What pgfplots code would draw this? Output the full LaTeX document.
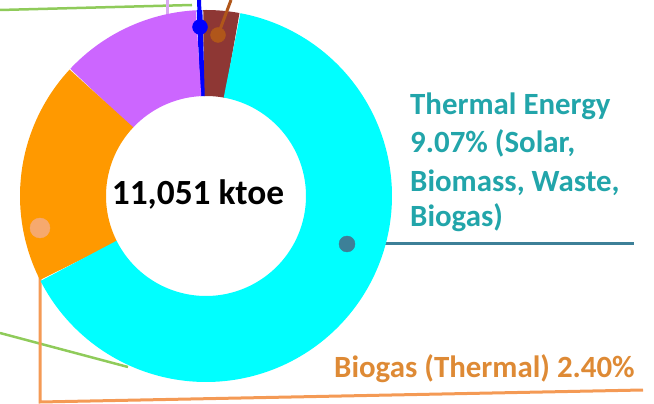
\documentclass[border=0pt]{standalone}
\usepackage{pgfplots}
\pgfplotsset{compat=1.18}
\usepackage{fontspec}
\setmainfont{Carlito}

\definecolor{slcyan}{HTML}{00FFFF}
\definecolor{slbrown}{HTML}{8E3734}
\definecolor{slblue}{HTML}{0000FF}
\definecolor{slpurple}{HTML}{CC66FF}
\definecolor{slorange}{HTML}{FF9900}
\definecolor{leadgreen}{HTML}{8FCB5A}
\definecolor{leadlav}{HTML}{D8A8F0}
\definecolor{leadbrown}{HTML}{B0561A}
\definecolor{leadorange}{HTML}{F49A55}
\definecolor{leadteal}{HTML}{3D8098}
\definecolor{txtteal}{HTML}{22A5AA}
\definecolor{txtorange}{HTML}{DE8A35}

% slice shares (percent), counter-clockwise from the start angle
\def\startangle{79.5}
\def\shBrown{3.19}
\def\shBlue{0.56}
\def\shPurple{12.22}
\def\shOrange{19.44}
\def\shCyan{64.59}

\begin{document}
\begin{tikzpicture}
\pgfmathsetmacro\aA{\startangle}
\pgfmathsetmacro\aB{\aA+3.6*\shBrown}
\pgfmathsetmacro\aC{\aB+3.6*\shBlue}
\pgfmathsetmacro\aD{\aC+3.6*\shPurple}
\pgfmathsetmacro\aE{\aD+3.6*\shOrange}
\pgfmathsetmacro\aF{\aE+3.6*\shCyan}
\begin{axis}[
    scale only axis,
    width=654bp, height=404bp,
    xmin=0, xmax=654, ymin=0, ymax=404,
    hide axis,
    clip=true,
]
% leader lines behind the ring
\addplot[leadgreen, line width=2.5bp] coordinates {(0,394) (192,399)};
\addplot[leadgreen, line width=2.5bp] coordinates {(0,71) (128,37)};
\addplot[leadlav, line width=3bp] coordinates {(167,385) (167,404)};
\addplot[leadorange, line width=3bp] coordinates {(40,176) (40,2) (643,14)};
\addplot[leadteal, line width=3bp] coordinates {(347,160) (634,160)};

% donut ring: centre (206,208), radii 100..186
\pgfplotsset{ring/.style={line width=86bp, line cap=butt, line join=round}}
\addplot[ring, slbrown,  domain=\aA:\aB, samples=12] ({206+143*cos(x)},{208+143*sin(x)});
\addplot[ring, slblue,   domain=\aB:\aC, samples=3]  ({206+143*cos(x)},{208+143*sin(x)});
\addplot[ring, slpurple, domain=\aC:\aD, samples=40] ({206+143*cos(x)},{208+143*sin(x)});
\addplot[ring, slorange, domain=\aD:\aE, samples=50] ({206+143*cos(x)},{208+143*sin(x)});
\addplot[ring, slcyan,   domain=\aE:\aF, samples=150] ({206+143*cos(x)},{208+143*sin(x)});

% leaders in front of the ring
\addplot[slblue, line width=4bp] coordinates {(200,377) (199,404)};
\addplot[only marks, mark=*, mark size=7.5bp, slblue] coordinates {(200,377)};
\addplot[leadbrown, line width=3bp] coordinates {(218,369) (231,404)};
\addplot[only marks, mark=*, mark size=7.5bp, leadbrown] coordinates {(218,369)};
\addplot[only marks, mark=*, mark size=10bp, leadorange!85!white] coordinates {(40,176)};
\addplot[only marks, mark=*, mark size=8bp, leadteal] coordinates {(347,160)};

% labels
\node[anchor=base, font=\bfseries\fontsize{35.5}{40}\selectfont] at (axis cs:198,199) {11,051 ktoe};
\begin{scope}[every node/.style={anchor=base west, text=txtteal, font=\bfseries\fontsize{31}{36}\selectfont, inner sep=0pt}]
\node at (axis cs:410,289) {Thermal Energy};
\node at (axis cs:410,251) {9.07\% (Solar,};
\node at (axis cs:410,212) {Biomass, Waste,};
\node at (axis cs:410,177) {Biogas)};
\end{scope}
\node[anchor=base west, inner sep=0pt, text=txtorange, font=\bfseries\fontsize{31}{36}\selectfont] at (axis cs:334,27) {Biogas (Thermal) 2.40\%};
\end{axis}
\pgfresetboundingbox
\path[use as bounding box] (current axis.south west) rectangle (current axis.north east);
\end{tikzpicture}
\end{document}
